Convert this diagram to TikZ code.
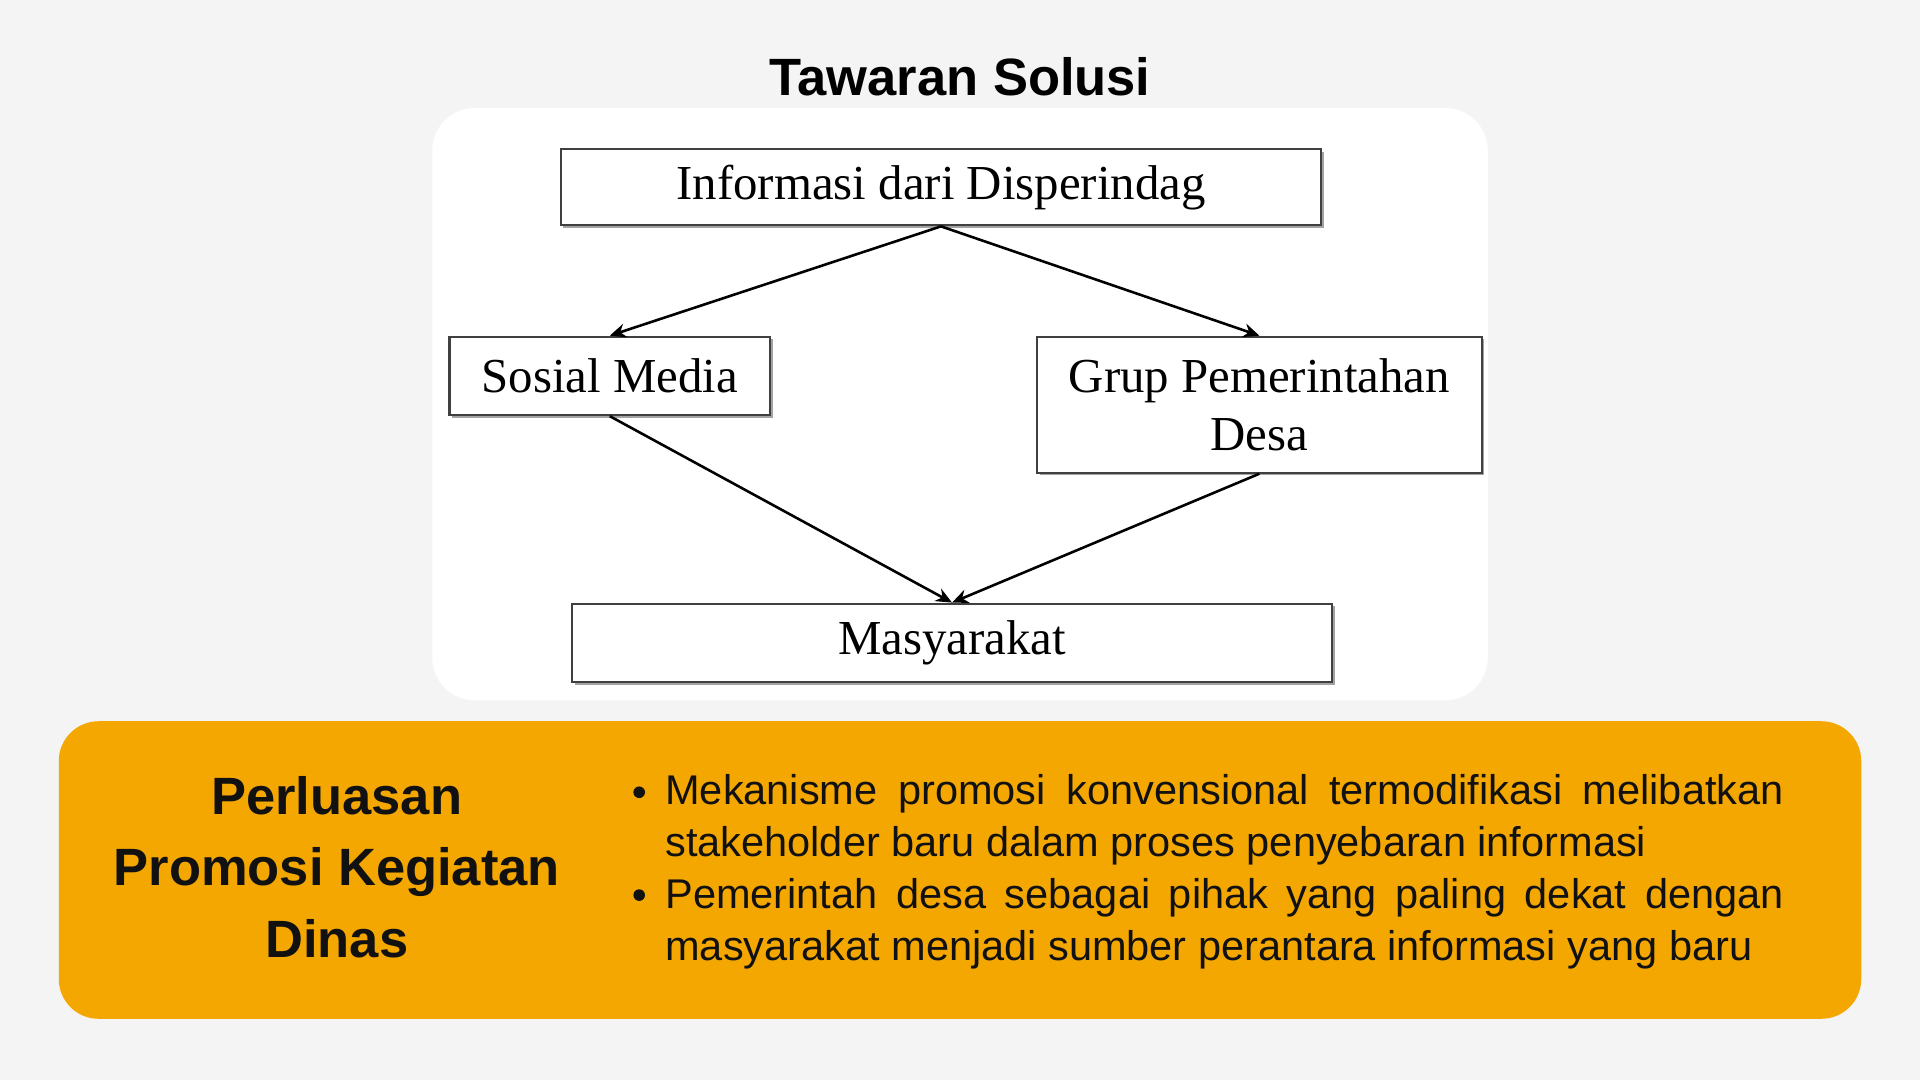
\documentclass[tikz,border=0pt]{standalone}
\usepackage{fontspec}
\setmainfont{Liberation Sans}
\newfontfamily\boxfont{Liberation Serif}
\usetikzlibrary{arrows.meta,shadows}

\definecolor{bgGray}{RGB}{244,244,244}
\definecolor{amber}{RGB}{244,167,0}
\definecolor{inkBlack}{RGB}{17,17,17}

\tikzset{
	flowbox/.style={draw=black!75, line width=1pt, fill=white, inner sep=0pt, align=center,
		font=\boxfont\fontsize{22.7}{27.2}\selectfont,
		drop shadow={shadow xshift=1.2pt, shadow yshift=-1.2pt, fill=black!45, opacity=0.8}},
	flowarrow/.style={-{Stealth[length=7.5pt,width=6.5pt]}, line width=1.2pt, black},
	headline/.style={font=\bfseries\fontsize{24.4}{29}\selectfont, text=black},
	pointtext/.style={inner sep=0pt, text=inkBlack, text width=519.9pt, align=justify,
		font=\fontsize{19.3}{24}\selectfont},
	pointdot/.style={circle, fill=inkBlack, inner sep=0pt, minimum size=0.19cm}
}

\begin{document}
\begin{tikzpicture}[x=0.02cm, y=-0.02cm]
		%%%%% START %%%%%
		
		\fill[bgGray] (0, 0) rectangle (1568, 882);
		\useasboundingbox (0, 0) rectangle (1568, 882);
		
		\node[headline, anchor=base] (title) at (784, 78) {Tawaran Solusi};
		
		\fill[white, rounded corners=0.7cm] (353, 88) rectangle (1215, 572);
		
		\node[flowbox, minimum width=12.42cm, minimum height=1.24cm] (info) at (768.5, 153) {Informasi dari Disperindag};
		\node[flowbox, minimum width=5.24cm, minimum height=1.28cm] (sosmed) at (498, 307) {Sosial Media};
		\node[flowbox, minimum width=7.26cm, minimum height=2.22cm] (grup) at (1028.5, 330.5) {Grup Pemerintahan\\Desa};
		\node[flowbox, minimum width=12.42cm, minimum height=1.28cm] (masy) at (777.5, 525) {Masyarakat};
		
		\draw[flowarrow] (info.south) -- (sosmed.north);
		\draw[flowarrow] (info.south) -- (grup.north);
		\draw[flowarrow] (sosmed.south) -- (masy.north);
		\draw[flowarrow] (grup.south) -- (masy.north);
		
		\fill[amber, rounded corners=0.65cm] (48, 589) rectangle (1520, 832);
		
		\node[anchor=base, align=center, text=inkBlack, font=\bfseries\fontsize{24.4}{33.3}\selectfont] (perluasan) at (275, 782) {Perluasan\\Promosi Kegiatan\\Dinas};
		
		\node[pointdot] (dotA) at (522, 647) {};
		\node[pointtext, anchor=base west] (pointA) at (543, 657) {Mekanisme promosi konvensional termodifikasi melibatkan\linebreak stakeholder baru dalam proses penyebaran informasi};
		\node[pointdot] (dotB) at (522, 731) {};
		\node[pointtext, anchor=base west] (pointB) at (543, 742) {Pemerintah desa sebagai pihak yang paling dekat dengan\linebreak masyarakat menjadi sumber perantara informasi yang baru};
		
		%%%%% END %%%%%
\end{tikzpicture}
\end{document}
